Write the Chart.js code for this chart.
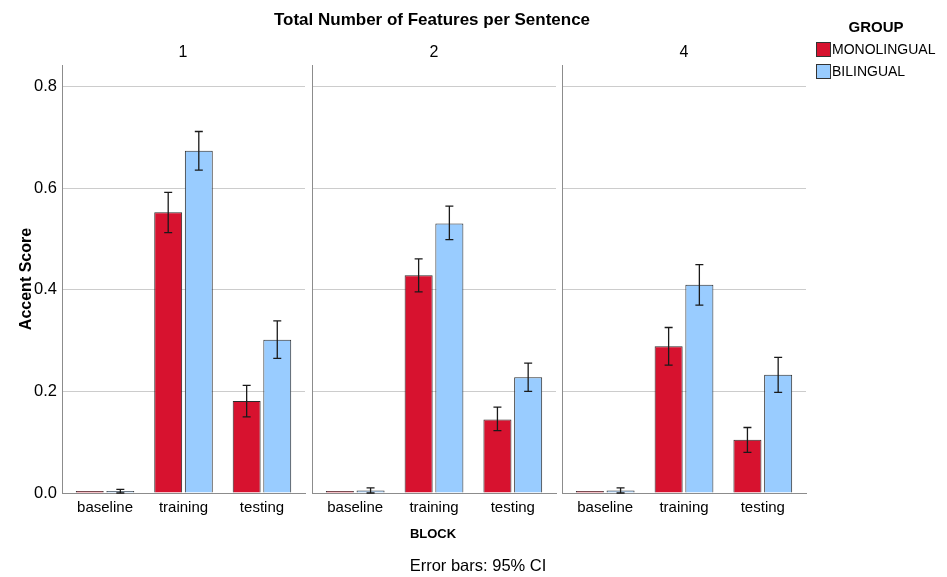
<!DOCTYPE html>
<html>
<head>
<meta charset="utf-8">
<script src="https://cdn.jsdelivr.net/npm/chart.js@4/dist/chart.umd.min.js"></script>
<style>
  body { margin: 0; background: #fff; font-family: "Liberation Sans", Arial, sans-serif; color: #000; }
  #wrap { position: relative; width: 947px; height: 577px; overflow: hidden; }
  #wrap canvas { position: absolute; left: 0; top: 0; }
  .txt { position: absolute; white-space: nowrap; text-align: center; }
  .sw { position: absolute; width: 13px; height: 13px; border: 1px solid #333; }
</style>
</head>
<body>
<div id="wrap">
  <canvas id="p1" width="947" height="577"></canvas>
  <canvas id="p2" width="947" height="577"></canvas>
  <canvas id="p3" width="947" height="577"></canvas>

  <div class="txt" style="left:232px; width:400px; top:9px; font-size:17px; font-weight:bold; line-height:22px;">Total Number of Features per Sentence</div>
  <div class="txt" style="left:133px; width:100px; top:42px; font-size:16px; line-height:20px;">1</div>
  <div class="txt" style="left:384px; width:100px; top:42px; font-size:16px; line-height:20px;">2</div>
  <div class="txt" style="left:634px; width:100px; top:42px; font-size:16px; line-height:20px;">4</div>
  <div class="txt" style="left:383px; width:100px; top:526px; font-size:13px; font-weight:bold; line-height:16px;">BLOCK</div>
  <div class="txt" style="left:378px; width:200px; top:555px; font-size:16.5px; line-height:20px;">Error bars: 95% CI</div>

  <div class="txt" style="left:826px; width:100px; top:18px; font-size:15px; font-weight:bold; line-height:18px;">GROUP</div>
  <div class="sw" style="left:816px; top:42px; background:#d7122f;"></div>
  <div class="txt" style="left:832px; top:41px; font-size:14px; line-height:17px; text-align:left;">MONOLINGUAL</div>
  <div class="sw" style="left:816px; top:64px; background:#99ccff;"></div>
  <div class="txt" style="left:832px; top:63px; font-size:14px; line-height:17px; text-align:left;">BILINGUAL</div>
</div>

<script>
// カテゴリ
const blocks = ['baseline', 'training', 'testing'];
const panelNames = ['1', '2', '4'];
const yTicks = [0, 0.2, 0.4, 0.6, 0.8];

// 平均値 (パネル 1, 2, 4 の順)
const monoMean = [[0.000, 0.553, 0.181], [0.000, 0.429, 0.145], [0.000, 0.289, 0.105]];
const biMean   = [[0.003, 0.674, 0.302], [0.005, 0.531, 0.228], [0.005, 0.410, 0.233]];

// 95% CI
const monoLow  = [[0.000, 0.513, 0.150], [0.000, 0.396, 0.123], [0.000, 0.252, 0.080]];
const monoHigh = [[0.000, 0.592, 0.212], [0.000, 0.461, 0.169], [0.000, 0.326, 0.129]];
const biLow    = [[0.000, 0.636, 0.265], [0.000, 0.499, 0.200], [0.000, 0.370, 0.198]];
const biHigh   = [[0.007, 0.712, 0.339], [0.010, 0.565, 0.256], [0.010, 0.450, 0.267]];

const MONO_COLOR = '#d7122f';
const BI_COLOR = '#99ccff';

// エラーバー描画用プラグイン
const errorBars = {
  id: 'errorBars',
  afterDatasetsDraw(chart) {
    const ctx = chart.ctx;
    const y = chart.scales.y;
    chart.data.datasets.forEach((ds, i) => {
      const meta = chart.getDatasetMeta(i);
      meta.data.forEach((bar, j) => {
        const lo = ds.errLow[j], hi = ds.errHigh[j];
        if (hi - lo <= 0) return;
        const yLo = y.getPixelForValue(lo);
        const yHi = y.getPixelForValue(hi);
        ctx.save();
        ctx.strokeStyle = '#1a1a1a';
        ctx.lineWidth = 1.3;
        ctx.beginPath();
        ctx.moveTo(bar.x, yLo); ctx.lineTo(bar.x, yHi);
        ctx.moveTo(bar.x - 4, yLo); ctx.lineTo(bar.x + 4, yLo);
        ctx.moveTo(bar.x - 4, yHi); ctx.lineTo(bar.x + 4, yHi);
        ctx.stroke();
        ctx.restore();
      });
    });
  }
};

// x軸の両端に少し余白を入れる（SPSS風）
const xInset = {
  id: 'xInset',
  afterLayout(chart) {
    const s = chart.scales.x;
    s._startPixel += 3.8;
    s._endPixel -= 3.8;
    s._length = s._endPixel - s._startPixel;
  }
};

function makePanel(idx, canvasId, padLeft, padRight) {
  const first = idx === 0;
  return new Chart(document.getElementById(canvasId), {
    type: 'bar',
    data: {
      labels: blocks,
      datasets: [
        {
          label: 'MONOLINGUAL',
          data: monoMean[idx],
          errLow: monoLow[idx],
          errHigh: monoHigh[idx],
          backgroundColor: MONO_COLOR,
          borderColor: '#2b2b2b',
          borderWidth: 1,
          minBarLength: 2
        },
        {
          label: 'BILINGUAL',
          data: biMean[idx],
          errLow: biLow[idx],
          errHigh: biHigh[idx],
          backgroundColor: BI_COLOR,
          borderColor: '#2b2b2b',
          borderWidth: 1,
          minBarLength: 2
        }
      ]
    },
    options: {
      responsive: false,
      animation: false,
      devicePixelRatio: 1,
      layout: { padding: { left: padLeft, right: padRight, top: 65, bottom: 44 } },
      datasets: { bar: { categoryPercentage: 0.78, barPercentage: 0.912 } },
      plugins: { legend: { display: false }, tooltip: { enabled: false }, title: { display: false } },
      scales: {
        x: {
          grid: { display: false, drawTicks: false },
          border: { display: true, color: '#8c8c8c', width: 1 },
          ticks: { color: '#000', font: { family: 'Liberation Sans', size: 15 }, padding: 6, maxRotation: 0 },
          afterFit: s => { s.height = 40; }
        },
        y: {
          min: 0,
          max: 0.843,
          afterBuildTicks: s => { s.ticks = yTicks.map(v => ({ value: v })); },
          ticks: {
            display: first,
            color: '#000',
            padding: 5,
            font: { family: 'Liberation Sans', size: 16.5 },
            callback: v => v.toFixed(1)
          },
          grid: { color: '#cccccc', drawTicks: false, lineWidth: 1 },
          border: { display: true, color: '#8c8c8c', width: 1 },
          title: {
            display: first,
            text: 'Accent Score',
            color: '#000',
            font: { family: 'Liberation Sans', size: 16, weight: 'bold' },
            padding: { top: 17, bottom: 0 }
          },
          afterFit: s => { s.width = first ? 62 : 0; }
        }
      }
    },
    plugins: [xInset, errorBars]
  });
}

makePanel(0, 'p1', 0, 642);
makePanel(1, 'p2', 312, 391);
makePanel(2, 'p3', 562, 141);
</script>
</body>
</html>
